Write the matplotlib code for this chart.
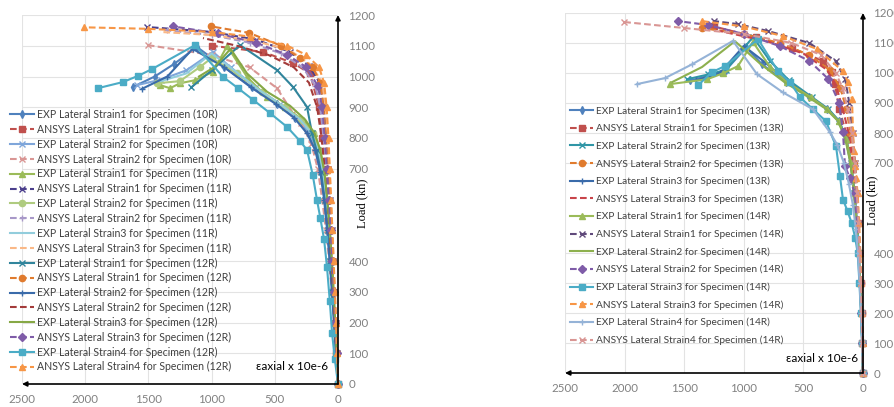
import matplotlib
matplotlib.use("Agg")
import matplotlib.pyplot as plt

plt.rcParams['font.family'] = ['Lato', 'DejaVu Sans']

# ---------------- left panel: specimens 10R, 11R, 12R  (strain, load) ----------------
exp1_10R = ([0, 15, 30, 45, 62, 82, 105, 135, 175, 240, 340, 480, 680, 900, 1116, 1300, 1450, 1622],
            [0, 100, 200, 300, 400, 500, 600, 690, 760, 815, 865, 910, 965, 1030, 1096, 1040, 1000, 966])
ans1_10R = ([0, 12, 25, 40, 55, 70, 88, 105, 125, 150, 221, 356, 593, 1000],
            [0, 100, 200, 300, 400, 500, 600, 700, 800, 900, 1010, 1044, 1080, 1100])
exp2_10R = ([0, 14, 28, 42, 58, 78, 100, 128, 165, 225, 320, 460, 650, 850, 989, 1200, 1400, 1590],
            [0, 100, 200, 300, 400, 500, 600, 690, 760, 815, 865, 910, 965, 1030, 1080, 1020, 990, 972])
ans2_10R = ([0, 15, 30, 50, 70, 95, 125, 160, 210, 290, 356, 483, 700, 1000, 1503],
            [0, 100, 200, 300, 400, 500, 600, 700, 780, 850, 881, 962, 1030, 1070, 1102])
exp1_11R = ([0, 12, 24, 36, 50, 66, 85, 108, 140, 190, 280, 420, 562, 720, 878, 989, 1131, 1250, 1329, 1408],
            [0, 100, 200, 300, 400, 500, 600, 690, 760, 815, 860, 900, 933, 999, 1099, 1015, 988, 978, 962, 972])
ans1_11R = ([0, 9, 18, 28, 38, 50, 62, 76, 92, 112, 145, 230, 380, 650, 1000, 1511],
            [0, 100, 200, 300, 400, 500, 600, 700, 800, 900, 980, 1035, 1080, 1120, 1145, 1161])
exp2_11R = ([0, 12, 24, 38, 52, 70, 90, 115, 150, 200, 290, 420, 600, 800, 1000, 1092, 1250, 1432],
            [0, 100, 200, 300, 400, 500, 600, 690, 760, 815, 860, 900, 950, 1010, 1060, 1031, 985, 978])
ans2_11R = ([0, 11, 22, 34, 47, 60, 76, 94, 115, 140, 180, 280, 450, 700, 1000, 1350],
            [0, 100, 200, 300, 400, 500, 600, 700, 800, 900, 970, 1030, 1075, 1110, 1135, 1150])
exp3_11R = ([0, 13, 26, 40, 55, 73, 95, 120, 156, 210, 300, 440, 620, 820, 1000, 1200, 1400],
            [0, 100, 200, 300, 400, 500, 600, 690, 760, 815, 860, 905, 955, 1020, 1075, 1010, 985])
ans3_11R = ([0, 7, 15, 24, 34, 44, 55, 67, 80, 98, 130, 220, 380, 650, 1000, 1408],
            [0, 100, 200, 300, 400, 500, 600, 700, 800, 900, 985, 1040, 1085, 1115, 1135, 1145])
exp1_12R = ([0, 14, 28, 44, 62, 82, 105, 135, 170, 206, 245, 356, 483, 775, 1000, 1160],
            [0, 100, 200, 300, 400, 500, 600, 690, 760, 816, 901, 966, 1021, 1102, 1020, 965])
ans1_12R = ([0, 10, 20, 30, 42, 55, 68, 82, 97, 115, 140, 200, 300, 450, 704, 1005],
            [0, 100, 200, 300, 400, 500, 600, 700, 800, 900, 980, 1030, 1060, 1100, 1142, 1163])
exp2_12R = ([0, 16, 32, 48, 66, 86, 110, 140, 180, 245, 345, 490, 690, 900, 1150, 1350, 1550],
            [0, 100, 200, 300, 400, 500, 600, 690, 760, 815, 865, 910, 965, 1030, 1090, 1000, 960])
ans2_12R = ([0, 12, 25, 38, 52, 68, 85, 105, 130, 165, 230, 350, 550, 800, 1068],
            [0, 100, 200, 300, 400, 500, 600, 700, 800, 900, 980, 1030, 1070, 1100, 1125])
exp3_12R = ([0, 11, 22, 34, 48, 64, 84, 108, 140, 185, 260, 380, 560, 720, 850, 980, 1100],
            [0, 100, 200, 300, 400, 500, 600, 690, 760, 815, 860, 905, 950, 1010, 1090, 1030, 1000])
ans3_12R = ([0, 10, 20, 32, 45, 58, 72, 88, 105, 125, 160, 250, 400, 650, 950, 1306],
            [0, 100, 200, 300, 400, 500, 600, 700, 800, 900, 970, 1030, 1070, 1110, 1140, 1163])
exp4_12R = ([0, 25, 47, 65, 87, 110, 140, 166, 200, 245, 300, 403, 538, 672, 791, 910, 1131, 1472, 1582, 1701, 1899],
            [0, 80, 166, 270, 380, 470, 540, 598, 680, 761, 790, 836, 881, 924, 962, 999, 1102, 1024, 1002, 982, 962])
ans4_12R = ([0, 8, 16, 25, 35, 45, 55, 65, 75, 90, 110, 150, 250, 400, 700, 1000, 1500, 2010],
            [0, 100, 200, 300, 400, 500, 600, 700, 800, 900, 980, 1030, 1070, 1100, 1130, 1145, 1155, 1160])

# ---------------- right panel: specimens 13R, 14R ----------------
exp1_13R = ([0, 6, 14, 24, 36, 50, 70, 100, 140, 200, 300, 450, 650, 850, 980, 1150, 1300, 1450],
            [0, 100, 200, 300, 400, 500, 600, 700, 780, 840, 880, 920, 970, 1030, 1085, 1010, 990, 975])
ans1_13R = ([0, 5, 12, 20, 30, 45, 65, 95, 140, 200, 235, 260, 336, 596, 900, 1250],
            [0, 100, 200, 300, 400, 500, 600, 700, 800, 880, 962, 1002, 1040, 1083, 1120, 1155])
exp2_13R = ([0, 6, 14, 24, 36, 52, 72, 100, 140, 200, 290, 430, 620, 780, 923, 1150, 1300, 1477],
            [0, 100, 200, 300, 400, 500, 600, 700, 780, 840, 880, 920, 975, 1040, 1120, 1010, 995, 979])
ans2_13R = ([0, 5, 12, 20, 30, 42, 58, 78, 105, 140, 190, 280, 450, 700, 1000, 1350],
            [0, 100, 200, 300, 400, 500, 600, 700, 800, 880, 950, 1010, 1060, 1100, 1130, 1150])
exp3_13R = ([0, 7, 15, 26, 38, 54, 75, 104, 145, 205, 300, 440, 640, 820, 1000, 1200, 1400],
            [0, 100, 200, 300, 400, 500, 600, 700, 780, 840, 880, 920, 972, 1035, 1090, 1000, 975])
ans3_13R = ([0, 5, 12, 20, 30, 43, 60, 85, 120, 170, 220, 300, 500, 800, 1200],
            [0, 100, 200, 300, 400, 500, 600, 700, 800, 880, 950, 1010, 1065, 1105, 1140])
exp1_14R = ([0, 6, 14, 24, 36, 52, 72, 100, 140, 205, 300, 440, 640, 780, 923, 1049, 1174, 1309, 1619],
            [0, 100, 200, 300, 400, 500, 600, 700, 780, 840, 880, 920, 970, 1020, 1103, 1023, 999, 979, 963])
ans1_14R = ([0, 4, 10, 17, 26, 37, 50, 66, 88, 115, 150, 230, 450, 797, 1049, 1250],
            [0, 100, 200, 300, 400, 500, 600, 700, 800, 900, 980, 1040, 1100, 1140, 1163, 1173])
exp2_14R = ([0, 7, 15, 26, 38, 54, 76, 106, 148, 210, 310, 460, 660, 860, 1074, 1350, 1600],
            [0, 100, 200, 300, 400, 500, 600, 700, 780, 840, 880, 920, 970, 1030, 1106, 1020, 970])
ans2_14R = ([0, 6, 13, 22, 34, 50, 70, 110, 151, 168, 200, 290, 450, 700, 1000, 1300, 1552],
            [0, 100, 200, 300, 400, 500, 600, 650, 690, 802, 900, 980, 1040, 1090, 1130, 1160, 1173])
exp3_14R = ([0, 8, 18, 30, 45, 65, 95, 130, 168, 193, 226, 310, 419, 528, 612, 713, 881, 1158, 1267, 1384],
            [0, 100, 200, 300, 400, 450, 500, 540, 578, 655, 755, 839, 879, 919, 969, 1006, 1113, 1023, 1003, 959])
ans3_14R = ([0, 3, 8, 14, 22, 32, 45, 58, 67, 75, 84, 92, 126, 168, 386, 671, 1000, 1351],
            [0, 100, 200, 300, 400, 500, 600, 650, 690, 740, 802, 912, 969, 1006, 1080, 1123, 1155, 1173])
exp4_14R = ([0, 8, 17, 28, 42, 60, 85, 118, 160, 215, 277, 419, 671, 889, 1091, 1434, 1661, 1896],
            [0, 100, 200, 300, 400, 480, 560, 630, 700, 760, 802, 879, 935, 996, 1107, 1029, 983, 963])
ans4_14R = ([0, 5, 11, 18, 27, 38, 52, 70, 95, 130, 170, 230, 350, 600, 1000, 1500, 2005],
            [0, 100, 200, 300, 400, 500, 600, 700, 800, 880, 950, 1000, 1060, 1100, 1130, 1150, 1170])

xticks = [2500, 2000, 1500, 1000, 500, 0]
yticks = [0, 100, 200, 300, 400, 700, 800, 900, 1000, 1100, 1200]

SOL = '-'
DSH = (0, (3.2, 1.6))

left_series = [
    ('EXP Lateral Strain1 for Specimen (10R)', exp1_10R, '#4F81BD', SOL, 'd'),
    ('ANSYS Lateral Strain1 for Specimen (10R)', ans1_10R, '#C0504D', DSH, 's'),
    ('EXP Lateral Strain2 for Specimen (10R)', exp2_10R, '#7FA6DA', SOL, 'x'),
    ('ANSYS Lateral Strain2 for Specimen (10R)', ans2_10R, '#D99694', DSH, 'x'),
    ('EXP Lateral Strain1 for Specimen (11R)', exp1_11R, '#9BBB59', SOL, '^'),
    ('ANSYS Lateral Strain1 for Specimen (11R)', ans1_11R, '#4B3F8C', DSH, 'x'),
    ('EXP Lateral Strain2 for Specimen (11R)', exp2_11R, '#AFCB7F', SOL, 'o'),
    ('ANSYS Lateral Strain2 for Specimen (11R)', ans2_11R, '#A898C8', DSH, '+'),
    ('EXP Lateral Strain3 for Specimen (11R)', exp3_11R, '#92CDDC', SOL, None),
    ('ANSYS Lateral Strain3 for Specimen (11R)', ans3_11R, '#FAB887', DSH, None),
    ('EXP Lateral Strain1 for Specimen (12R)', exp1_12R, '#31859C', SOL, 'x'),
    ('ANSYS Lateral Strain1 for Specimen (12R)', ans1_12R, '#E07B2E', DSH, 'o'),
    ('EXP Lateral Strain2 for Specimen (12R)', exp2_12R, '#3A6BAA', SOL, '+'),
    ('ANSYS Lateral Strain2 for Specimen (12R)', ans2_12R, '#A33B3A', DSH, None),
    ('EXP Lateral Strain3 for Specimen (12R)', exp3_12R, '#86A845', SOL, None),
    ('ANSYS Lateral Strain3 for Specimen (12R)', ans3_12R, '#7F5CA8', DSH, 'D'),
    ('EXP Lateral Strain4 for Specimen (12R)', exp4_12R, '#4BACC6', SOL, 's'),
    ('ANSYS Lateral Strain4 for Specimen (12R)', ans4_12R, '#F79646', DSH, '^'),
]

right_series = [
    ('EXP Lateral Strain1 for Specimen (13R)', exp1_13R, '#4F81BD', SOL, 'd'),
    ('ANSYS Lateral Strain1 for Specimen (13R)', ans1_13R, '#C0504D', DSH, 's'),
    ('EXP Lateral Strain2 for Specimen (13R)', exp2_13R, '#3096A6', SOL, 'x'),
    ('ANSYS Lateral Strain2 for Specimen (13R)', ans2_13R, '#E07B2E', DSH, 'o'),
    ('EXP Lateral Strain3 for Specimen (13R)', exp3_13R, '#3A6BAA', SOL, '+'),
    ('ANSYS Lateral Strain3 for Specimen (13R)', ans3_13R, '#C8444A', DSH, None),
    ('EXP Lateral Strain1 for Specimen (14R)', exp1_14R, '#9BBB59', SOL, '^'),
    ('ANSYS Lateral Strain1 for Specimen (14R)', ans1_14R, '#604A7B', DSH, 'x'),
    ('EXP Lateral Strain2 for Specimen (14R)', exp2_14R, '#8DB04E', SOL, None),
    ('ANSYS Lateral Strain2 for Specimen (14R)', ans2_14R, '#7F5CA8', DSH, 'D'),
    ('EXP Lateral Strain3 for Specimen (14R)', exp3_14R, '#4BACC6', SOL, 's'),
    ('ANSYS Lateral Strain3 for Specimen (14R)', ans3_14R, '#F79646', DSH, '^'),
    ('EXP Lateral Strain4 for Specimen (14R)', exp4_14R, '#95B3D7', SOL, '+'),
    ('ANSYS Lateral Strain4 for Specimen (14R)', ans4_14R, '#D99694', DSH, 'x'),
]

W, H = 894, 407
fig = plt.figure(figsize=(W / 100, H / 100), dpi=100)


def px_axes(x0, x1, ytop, ybot):
    return fig.add_axes([x0 / W, (H - ybot) / H, (x1 - x0) / W, (ybot - ytop) / H])


def draw_panel(ax, series, leg_xy, fsize, spacing):
    for label, (sx, sy), col, ls, mk in series:
        ms = 4.5 if mk in ('s', 'o') else 4
        ax.plot(sx, sy, color=col, linestyle=ls, linewidth=1.5, marker=mk,
                markersize=ms, markeredgewidth=1.0, label=label, clip_on=False)
    ax.set_xlim(2500, 0)
    ax.set_ylim(0, 1200)
    ax.set_xticks(xticks)
    ax.set_yticks(yticks)
    ax.yaxis.tick_right()
    ax.tick_params(length=0, labelsize=8.3, labelcolor='#808080', pad=7.5)
    ax.grid(True, color='#e3e3e3', linewidth=0.8)
    ax.set_axisbelow(True)
    for s in ax.spines.values():
        s.set_visible(False)
    # black axis arrows
    ax.annotate('', xy=(2500, 0), xytext=(0, 0),
                arrowprops=dict(arrowstyle='-|>', color='black', lw=1.2, mutation_scale=7,
                                shrinkA=0, shrinkB=0), annotation_clip=False)
    ax.annotate('', xy=(0, 1200), xytext=(0, 0),
                arrowprops=dict(arrowstyle='-|>', color='black', lw=1.2, mutation_scale=7,
                                shrinkA=0, shrinkB=0), annotation_clip=False)
    ax.legend(loc='upper left', bbox_to_anchor=(leg_xy[0] / W, (H - leg_xy[1]) / H),
              bbox_transform=fig.transFigure, frameon=False, fontsize=fsize,
              handlelength=2.3, handletextpad=0.25, borderpad=0, borderaxespad=0,
              labelspacing=spacing, labelcolor='#404040')


ax1 = px_axes(22, 338, 15, 384)
draw_panel(ax1, left_series, (10, 109), 7.6, 0.36)
ax1.text(79, 58, 'εaxial x 10e-6', fontsize=8.5, ha='right', va='center')
fig.text(362 / W, 1 - 203 / H, 'Load (kn)', rotation=90, ha='center', va='center',
         fontsize=9, family='Liberation Serif', color='black')

ax2 = px_axes(565, 863, 13, 373)
draw_panel(ax2, right_series, (570, 106), 7.3, 0.80)
ax2.text(42, 50, 'εaxial x 10e-6', fontsize=8.5, ha='right', va='center')
fig.text(872 / W, 1 - 200 / H, 'Load (kn)', rotation=90, ha='center', va='center',
         fontsize=9, family='Liberation Serif', color='black')

fig.savefig('out.png', dpi=100, facecolor='white')
